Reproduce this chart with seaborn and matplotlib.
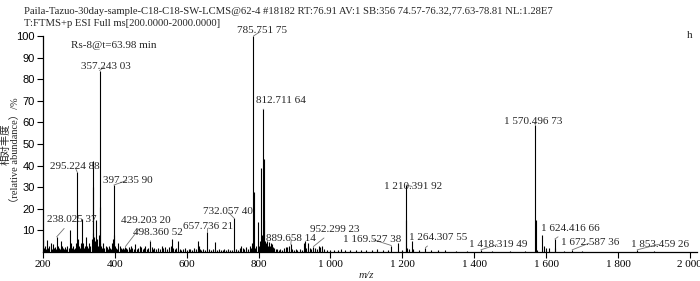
import numpy as np
import matplotlib
matplotlib.use("Agg")
import matplotlib.pyplot as plt
import matplotlib.ticker as mticker
import seaborn as sns

# -------------------- peak list (m/z, relative abundance %) --------------------
mz = [200.5, 203, 206, 209, 212, 215, 218, 221, 224, 227, 230, 233, 236, 238.03, 241, 244, 247,
      250, 253, 256, 259, 262, 265, 268, 271, 275, 278, 281, 284, 287, 290, 293, 295.22, 297, 299,
      302, 305, 308, 311, 314, 317, 320, 323, 326, 329, 332, 335, 338, 339.5, 340.5, 342, 345, 348,
      351, 353, 355, 357.24, 358.3, 359.3, 362, 365, 368, 371, 374, 377, 380, 383, 386, 389, 392,
      395, 397.24, 398.3, 401, 404, 407, 410, 413, 416, 419, 422, 425, 429.2, 432, 435, 438, 441,
      445, 449, 453, 457, 461, 465, 469, 473, 477, 481, 485, 489, 493, 498.36, 502, 506, 510, 515,
      520, 525, 530, 535, 540, 545, 550, 555, 560, 563, 567, 571, 575, 580, 585, 590, 595, 600,
      605, 610, 615, 620, 625, 630, 633, 637, 641, 645, 650, 657.74, 662, 667, 672, 678, 684, 690,
      695, 700, 705, 710, 715, 720, 725, 732.06, 738, 743, 748, 752, 756, 760, 765, 770, 775, 779,
      783, 785.75, 786.75, 790, 794, 797, 800, 803, 805.7, 808, 810, 812.71, 813.7, 814.7, 817, 820,
      823, 826, 829, 832, 835, 838, 841, 844, 848, 852, 856, 860, 865, 870, 875, 880, 885, 889.66,
      893, 898, 903, 908, 915, 920, 927, 930, 933, 937, 942, 947, 952.3, 957, 962, 967, 972, 977,
      983, 990, 1000, 1010, 1020, 1030, 1040, 1055, 1070, 1085, 1100, 1115, 1130, 1145, 1160,
      1169.53, 1188, 1200, 1210.39, 1211.39, 1213, 1218, 1226, 1230, 1245, 1264.31, 1280, 1300,
      1320, 1350, 1380, 1418.32, 1450, 1500, 1540, 1570.5, 1571.5, 1575, 1590, 1593, 1600, 1607,
      1624.42, 1626, 1650, 1672.59, 1700, 1853.46, 1900]
abundance = [5.5, 2, 3, 1.5, 5.5, 2, 3, 4, 1.5, 3.5, 2, 2.5, 1.5, 7, 3, 2, 1.5,
             5, 3, 2, 1.5, 2.5, 1.5, 3, 2, 10, 4, 2, 3, 1.5, 2, 4, 37, 6, 3,
             2, 4, 15.5, 4, 2, 3, 7, 3, 2, 4, 3, 6, 9, 42, 30, 7, 5, 15,
             6, 3, 8, 84, 21, 4, 3, 2, 4, 2, 3, 2.5, 1.5, 3, 2, 1.5, 4,
             6, 31, 8, 3, 2, 1.5, 4, 3, 2, 1.5, 2, 1.5, 2.5, 2, 1.5, 2.5, 1.5,
             3, 2, 1.5, 3.5, 1.5, 2, 3, 2.5, 1.5, 2, 3, 1.5, 2, 5, 2.5, 1.5, 2, 1.5,
             2, 1.5, 3, 2, 2.5, 1.5, 2.5, 3, 6, 2, 1.5, 2, 5, 1.5, 1, 1.5, 2, 1,
             1.5, 1.5, 1, 2, 1.5, 5, 3, 1.5, 1, 1.5, 1, 9.4, 1.5, 1, 1.5, 4.5, 1, 1.5,
             1, 1, 1.5, 1, 1.5, 1, 1, 15.6, 1.5, 1, 2, 3, 2, 1.5, 2.5, 1.5, 3, 2,
             4, 100, 28, 2, 3, 14, 3, 5, 39, 4, 8, 66, 43, 15, 5, 4,
             5, 3, 4.5, 3, 4, 3.5, 2.5, 2, 1.5, 1.5, 1, 1.5, 1, 2, 2.5, 2.5, 3, 3.5,
             1.5, 1, 1.5, 1, 1.5, 1, 4, 5, 2, 4, 2, 1.5, 2.5, 2, 1.5, 3, 2.5, 3,
             1.5, 1, 1, 0.8, 1, 1.5, 0.8, 1, 0.8, 1, 1, 0.8, 1.2, 0.8, 1,
             3, 4, 1, 31, 15, 2, 1.5, 5, 1.5, 1, 2, 0.8, 1,
             0.8, 0.5, 0.5, 1, 0.5, 0.5, 0.5, 59, 15, 1, 8, 3, 2, 2,
             6, 2, 0.5, 1, 0.5, 1, 0.5]

# -------------------- annotated peaks --------------------
label_text = ["785.751 75", "357.243 03", "295.224 88", "397.235 90", "238.025 37",
              "429.203 20", "498.360 52", "657.736 21", "732.057 40", "812.711 64",
              "889.658 14", "952.299 23", "1 169.527 38", "1 210.391 92", "1 264.307 55",
              "1 418.319 49", "1 570.496 73", "1 624.416 66", "1 672.587 36", "1 853.459 26"]
label_mz = [785.75, 357.24, 295.22, 397.24, 238.03, 429.2, 498.36, 657.74, 732.06, 812.71,
            889.66, 952.3, 1169.53, 1210.39, 1264.31, 1418.32, 1570.5, 1624.42, 1672.59, 1853.46]
label_ab = [100, 84, 37, 31, 7, 2.5, 5, 9.4, 15.6, 66,
            3.5, 2.5, 3, 31, 2, 1, 59, 6, 1, 1]
# text placement (m/z, %) for each label
label_pos = [(809, 102.5), (374, 86), (289, 39.4), (436.5, 33.3), (280.7, 15),
             (486, 14.8), (521, 8.8), (658, 11.6), (714, 18.7), (862, 70),
             (891, 6.3), (1011.6, 10.5), (1115, 5.9), (1231, 30.2), (1299, 6.8),
             (1467, 3.6), (1565, 60.3), (1667.7, 11), (1723, 4.3), (1917, 3.7)]

title1 = "Paila-Tazuo-30day-sample-C18-C18-SW-LCMS@62-4 #18182 RT:76.91 AV:1 SB:356 74.57-76.32,77.63-78.81 NL:1.28E7"
title2 = "T:FTMS+p ESI Full ms[200.0000-2000.0000]"
note = "Rs-8@t=63.98 min"

# -------------------- plotting --------------------
sns.set_style("ticks")
plt.rcParams['font.family'] = ['Liberation Serif', 'Noto Sans CJK SC', 'DejaVu Sans']

fig = plt.figure(figsize=(7, 2.81), dpi=100)
ax = fig.add_axes([43 / 700, 29 / 281, 654 / 700, 216 / 281])

ax.vlines(mz, 0, abundance, colors="black", lw=0.8)

for txt, x0, y0, (tx, ty) in zip(label_text, label_mz, label_ab, label_pos):
    ax.annotate(txt, xy=(x0, y0), xytext=(tx, ty), ha="center", va="center",
                fontsize=8, annotation_clip=False,
                arrowprops=dict(arrowstyle="-", color="0.45", lw=0.6, shrinkA=1, shrinkB=0))

ax.text(397.5, 95.8, note, ha="center", va="center", fontsize=8)

ax.set_xlim(200, 2020)
ax.set_ylim(0, 100)
ax.set_xticks(np.arange(200, 2001, 200))
ax.set_yticks(np.arange(10, 101, 10))
ax.xaxis.set_major_formatter(mticker.FuncFormatter(lambda v, p: f"{int(v):,}".replace(",", " ")))
ax.tick_params(axis="both", direction="out", length=4, width=0.8, colors="black", pad=2)
ax.tick_params(axis="x", labelsize=8)
ax.tick_params(axis="y", labelsize=8)
for lab in ax.get_yticklabels():
    lab.set_family("Liberation Sans")
for s in ["left", "bottom"]:
    ax.spines[s].set_linewidth(0.9)
    ax.spines[s].set_color("black")
sns.despine(ax=ax)

fig.text(366 / 700, 1 - 275 / 281, "m/z", ha="center", va="center", fontsize=8, style="italic")
fig.text(5.5 / 700, 1 - 144 / 281, "相对丰度", rotation=90, ha="center", va="center",
         fontsize=7.5, family=["Noto Sans CJK SC", "DejaVu Sans"])
fig.text(15.5 / 700, 1 - 153 / 281, "（relative abundance）/%", rotation=90, ha="center", va="center",
         fontsize=7.5, family=["Liberation Serif", "Noto Sans CJK SC"])

fig.text(24 / 700, 1 - 11 / 281, title1, ha="left", va="center", fontsize=7.7)
fig.text(24 / 700, 1 - 23 / 281, title2, ha="left", va="center", fontsize=7.7)
fig.text(690 / 700, 1 - 35 / 281, "h", ha="center", va="center", fontsize=8)

plt.savefig("out.png", dpi=100)
